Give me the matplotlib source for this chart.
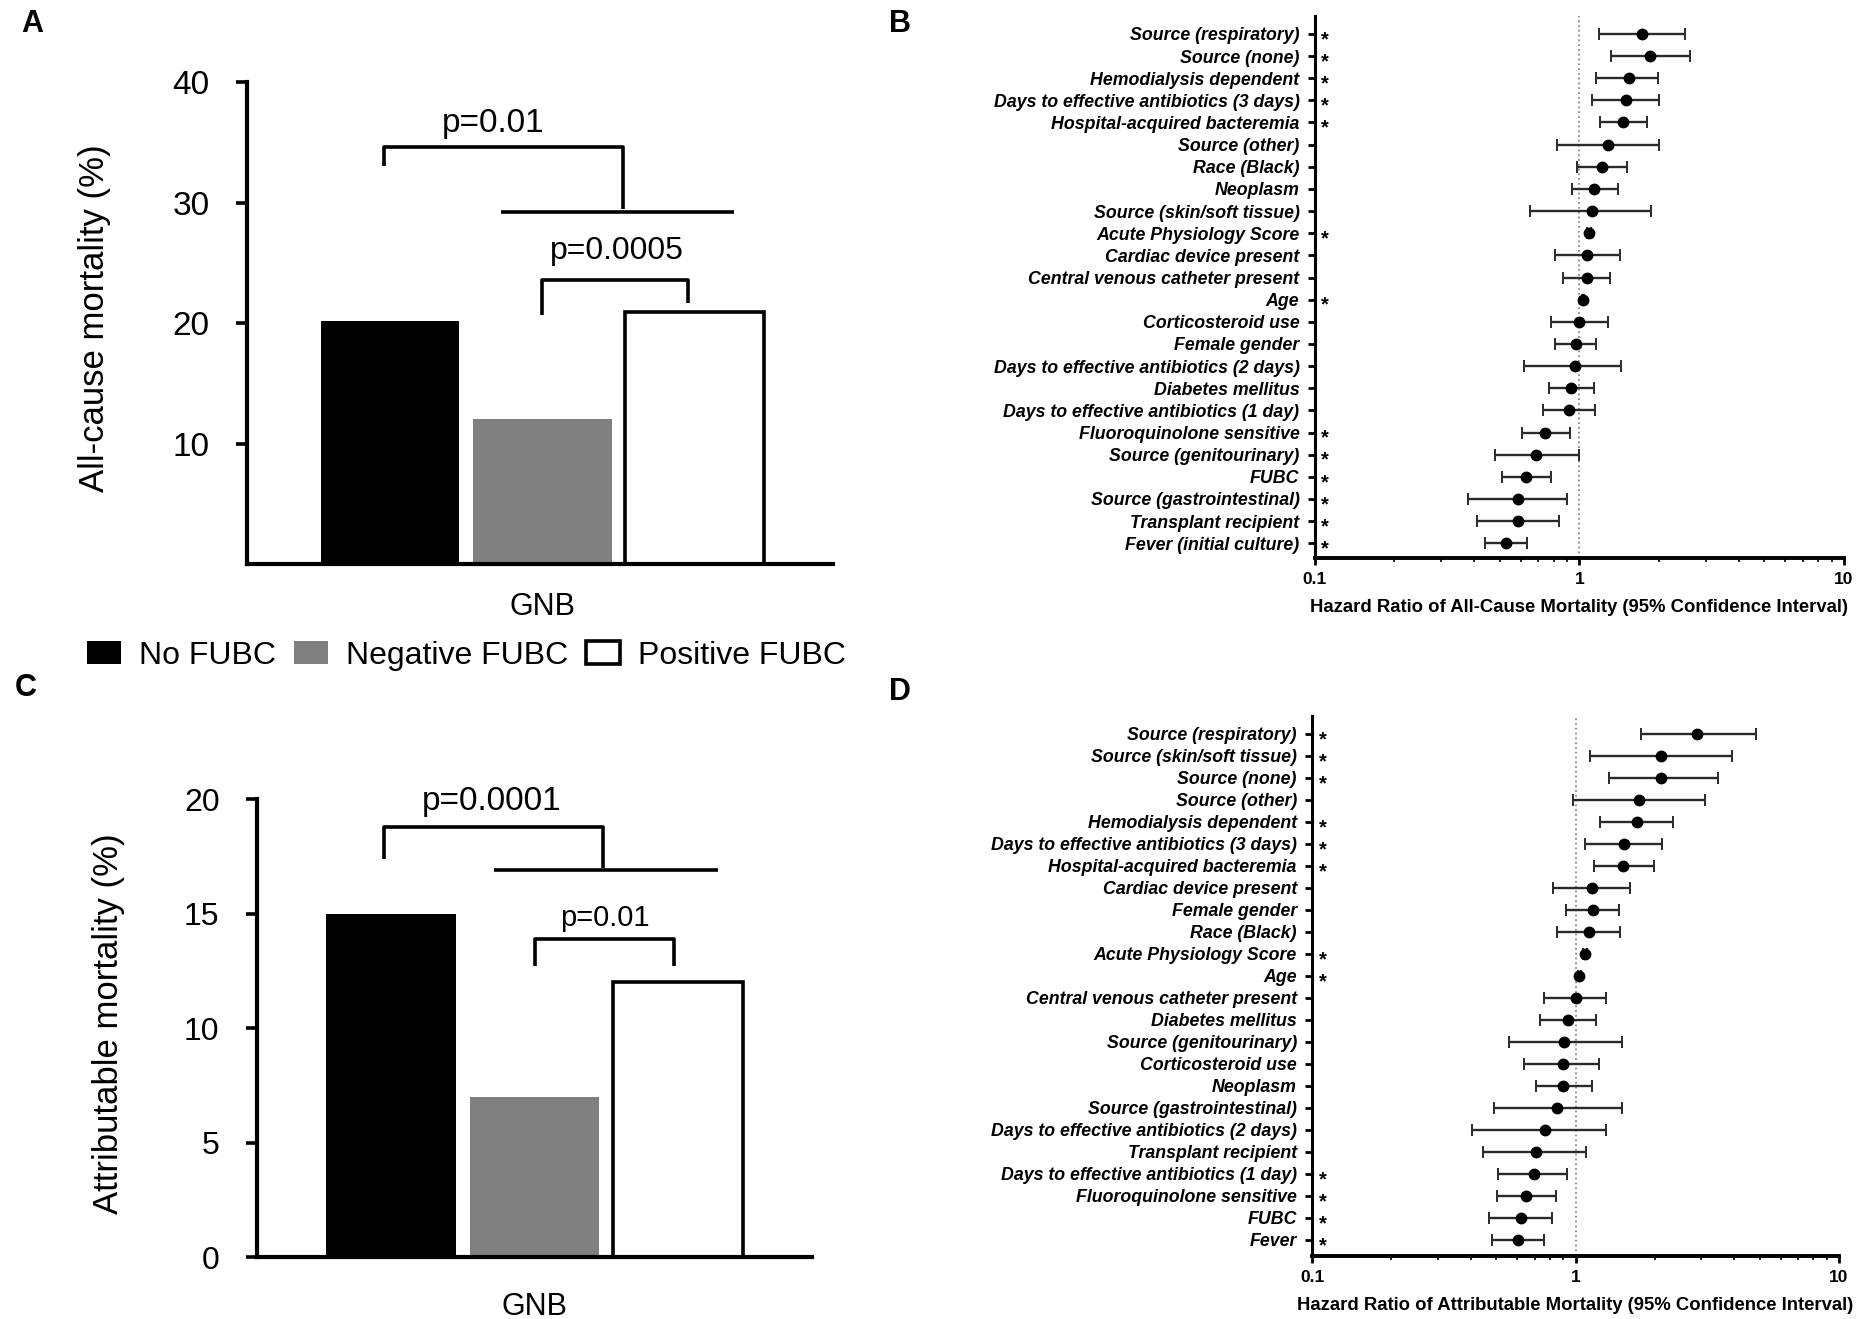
import matplotlib
matplotlib.use("Agg")
import matplotlib.pyplot as plt
import matplotlib.transforms as mtransforms
from matplotlib.patches import Patch
import numpy as np

plt.rcParams['font.family'] = ['Liberation Sans', 'DejaVu Sans']

# bar panels
groups = ["No FUBC", "Negative FUBC", "Positive FUBC"]
bar_colors = ["black", "#808080", "white"]
allcause_mortality = [20.2, 12.0, 20.9]
attributable_mortality = [15.0, 7.0, 12.0]

# panel B: hazard ratios of all-cause mortality
b_labels = ["Source (respiratory)", "Source (none)", "Hemodialysis dependent",
            "Days to effective antibiotics (3 days)", "Hospital-acquired bacteremia",
            "Source (other)", "Race (Black)", "Neoplasm", "Source (skin/soft tissue)",
            "Acute Physiology Score", "Cardiac device present",
            "Central venous catheter present", "Age", "Corticosteroid use",
            "Female gender", "Days to effective antibiotics (2 days)", "Diabetes mellitus",
            "Days to effective antibiotics (1 day)", "Fluoroquinolone sensitive",
            "Source (genitourinary)", "FUBC", "Source (gastrointestinal)",
            "Transplant recipient", "Fever (initial culture)"]
b_hr = [1.72, 1.85, 1.54, 1.50, 1.46, 1.28, 1.22, 1.14, 1.12, 1.09, 1.07, 1.07, 1.03,
        1.00, 0.97, 0.96, 0.93, 0.91, 0.744, 0.686, 0.627, 0.585, 0.587, 0.528]
b_lo = [1.19, 1.32, 1.16, 1.12, 1.20, 0.82, 0.98, 0.94, 0.65, 1.07, 0.81, 0.87, 1.02,
        0.78, 0.81, 0.62, 0.77, 0.73, 0.605, 0.48, 0.51, 0.378, 0.41, 0.439]
b_hi = [2.51, 2.62, 1.99, 2.00, 1.80, 2.00, 1.51, 1.40, 1.86, 1.11, 1.42, 1.31, 1.04,
        1.28, 1.16, 1.44, 1.14, 1.15, 0.918, 1.00, 0.78, 0.90, 0.835, 0.635]
b_sig = [1, 1, 1, 1, 1, 0, 0, 0, 0, 1, 0, 0, 1, 0, 0, 0, 0, 0, 1, 1, 1, 1, 1, 1]

# panel D: hazard ratios of attributable mortality
d_labels = ["Source (respiratory)", "Source (skin/soft tissue)", "Source (none)",
            "Source (other)", "Hemodialysis dependent",
            "Days to effective antibiotics (3 days)", "Hospital-acquired bacteremia",
            "Cardiac device present", "Female gender", "Race (Black)",
            "Acute Physiology Score", "Age", "Central venous catheter present",
            "Diabetes mellitus", "Source (genitourinary)", "Corticosteroid use",
            "Neoplasm", "Source (gastrointestinal)", "Days to effective antibiotics (2 days)",
            "Transplant recipient", "Days to effective antibiotics (1 day)",
            "Fluoroquinolone sensitive", "FUBC", "Fever"]
d_hr = [2.89, 2.11, 2.11, 1.74, 1.71, 1.53, 1.51, 1.15, 1.16, 1.12, 1.09, 1.035, 1.00,
        0.94, 0.905, 0.90, 0.90, 0.85, 0.765, 0.708, 0.693, 0.647, 0.622, 0.604]
d_lo = [1.77, 1.13, 1.34, 0.98, 1.24, 1.09, 1.17, 0.82, 0.92, 0.85, 1.07, 1.02, 0.76,
        0.73, 0.56, 0.64, 0.705, 0.49, 0.406, 0.445, 0.508, 0.504, 0.47, 0.48]
d_hi = [4.82, 3.92, 3.46, 3.11, 2.35, 2.13, 1.98, 1.61, 1.46, 1.48, 1.11, 1.05, 1.31,
        1.20, 1.50, 1.23, 1.15, 1.50, 1.31, 1.10, 0.93, 0.845, 0.813, 0.762]
d_sig = [1, 1, 1, 0, 1, 1, 1, 0, 0, 0, 1, 1, 0, 0, 0, 0, 0, 0, 0, 0, 1, 1, 1, 1]

fig = plt.figure(figsize=(18.64, 13.19), dpi=100)


def bar_panel(ax, values, ylim, yticks, ylabel, xlim, width, tick_fs, label_x, gnb_pad):
    x = np.arange(len(values))
    ax.bar(x, values, width=width, color=bar_colors,
           edgecolor=["black", "#808080", "black"], linewidth=[0, 0, 2.6], zorder=2)
    ax.set_xlim(*xlim)
    ax.set_ylim(*ylim)
    ax.set_yticks(yticks)
    ax.set_xticks([1], ["GNB"], fontsize=22)
    ax.tick_params(axis='x', length=0, pad=gnb_pad)
    ax.tick_params(axis='y', labelsize=tick_fs, length=8, width=2.6, pad=19)
    for s in ["top", "right"]:
        ax.spines[s].set_visible(False)
    for s in ["left", "bottom"]:
        ax.spines[s].set_linewidth(3)
    ax.set_ylabel(ylabel, fontsize=25, va='center')
    ax.yaxis.set_label_coords(label_x, 0.51)


def bracket(ax, xs, ys, **kw):
    ax.plot(xs, ys, color="black", lw=2.6, solid_capstyle='butt', clip_on=False, **kw)


# ---- panel A ----
axA = fig.add_axes([0.1325, 0.5724, 0.3144, 0.3654])
bar_panel(axA, allcause_mortality, (0, 40), [10, 20, 30, 40], "All-cause mortality (%)",
          (-0.94, 2.91), 0.91, 24, -0.26, 20)
bracket(axA, [-0.04, -0.04, 1.53, 1.53], [33, 34.6, 34.6, 29.5])
bracket(axA, [0.73, 2.26], [29.2, 29.2])
axA.text(0.68, 36.6, "p=0.01", fontsize=24, ha='center', va='center')
bracket(axA, [1.0, 1.0, 1.96, 1.96], [20.7, 23.6, 23.6, 21.7])
axA.text(1.49, 26.0, "p=0.0005", fontsize=23, ha='center', va='center')

# ---- panel C ----
axC = fig.add_axes([0.1379, 0.0470, 0.2977, 0.3472])
bar_panel(axC, attributable_mortality, (0, 20), [0, 5, 10, 15, 20],
          "Attributable mortality (%)", (-0.934, 2.934), 0.906, 23, -0.267, 25)
bracket(axC, [-0.05, -0.05, 1.48, 1.48], [17.4, 18.8, 18.8, 17.0])
bracket(axC, [0.72, 2.28], [16.9, 16.9])
axC.text(0.70, 19.9, "p=0.0001", fontsize=24, ha='center', va='center')
bracket(axC, [1.0, 1.0, 1.97, 1.97], [12.7, 13.9, 13.9, 12.7])
axC.text(1.49, 14.8, "p=0.01", fontsize=21, ha='center', va='center')

# legend between A and C
handles = [Patch(facecolor="black", edgecolor="black", linewidth=0),
           Patch(facecolor="#808080", edgecolor="#808080", linewidth=0),
           Patch(facecolor="white", edgecolor="black", linewidth=2.6)]
fig.legend(handles, groups, loc='center', bbox_to_anchor=(0.2503, 0.503), ncol=3,
           frameon=False, fontsize=23, handlelength=1.07, handleheight=0.75,
           handletextpad=0.56, columnspacing=0.56)


def forest(ax, labels, hr, lo, hi, sig, xlabel, top_pad, bot_pad):
    n = len(labels)
    y = np.arange(n)[::-1]
    hr = np.array(hr)
    lo = np.array(lo)
    hi = np.array(hi)
    ax.axvline(1, color="#8a8a8a", ls=':', lw=1.3, zorder=0)
    ax.errorbar(hr, y, xerr=[hr - lo, hi - hr], fmt='o', color='black', ecolor='#2a2a2a',
                elinewidth=1.7, capsize=4.5, capthick=1.4, markersize=7.5, zorder=3)
    ax.set_xscale('log')
    ax.set_xlim(0.1, 10)
    ax.set_ylim(-bot_pad, n - 1 + top_pad)
    ax.set_yticks(y, labels, fontsize=12.8, fontweight='bold', fontstyle='italic')
    ax.set_xticks([0.1, 1, 10], ["0.1", "1", "10"], fontsize=12.5, fontweight='bold')
    ax.tick_params(axis='y', length=5, width=2, pad=6)
    ax.tick_params(axis='x', which='major', length=5, width=2, pad=5)
    ax.tick_params(axis='x', which='minor', length=3, width=1.2)
    for s in ["top", "right"]:
        ax.spines[s].set_visible(False)
    ax.spines['left'].set_linewidth(2.2)
    ax.spines['bottom'].set_linewidth(2.8)
    ax.set_xlabel(xlabel, fontsize=13.3, fontweight='bold', labelpad=9)
    trans = mtransforms.blended_transform_factory(ax.transAxes, ax.transData) + \
        mtransforms.ScaledTranslation(0, -4 / 72, fig.dpi_scale_trans)
    for yi, s in zip(y, sig):
        if s:
            ax.text(0.02, yi, "*", transform=trans, ha='center', va='center',
                    fontsize=14.5, fontweight='bold')


axB = fig.add_axes([0.7053, 0.5772, 0.2840, 0.4107])
forest(axB, b_labels, b_hr, b_lo, b_hi, b_sig,
       "Hazard Ratio of All-Cause Mortality (95% Confidence Interval)", 0.81, 0.65)

axD = fig.add_axes([0.7039, 0.0478, 0.2827, 0.4094])
forest(axD, d_labels, d_hr, d_lo, d_hi, d_sig,
       "Hazard Ratio of Attributable Mortality (95% Confidence Interval)", 0.82, 0.73)

# panel letters
for letter, px, py in [("A", 32, 24), ("B", 900, 24), ("C", 26, 688), ("D", 900, 692)]:
    fig.text(px / 1864, 1 - py / 1319, letter, fontsize=22, fontweight='bold',
             ha='center', va='center')

fig.savefig("out.png", dpi=100)
